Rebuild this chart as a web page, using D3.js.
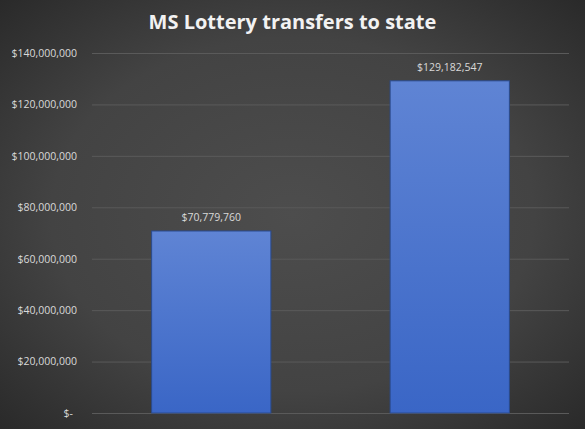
<!DOCTYPE html>
<html><head><meta charset="utf-8">
<script src="https://cdn.jsdelivr.net/npm/d3@7"></script>
<style>html,body{margin:0;padding:0;background:#3a3a3a;}svg{display:block;}</style>
</head><body>
<script>
const categories = ["Year 1", "Year 2"];
const values = [70779760, 129182547];
const tickValues = [0, 20000000, 40000000, 60000000, 80000000, 100000000, 120000000, 140000000];
const tickLabels = ["$-", "$20,000,000", "$40,000,000", "$60,000,000", "$80,000,000", "$100,000,000", "$120,000,000", "$140,000,000"];
const title = "MS Lottery transfers to state";

const W = 585, H = 429;
const margin = {left: 92, right: 16, top: 53, bottom: 16};
const svg = d3.select("body").append("svg").attr("width", W).attr("height", H);
const defs = svg.append("defs");
const bg = defs.append("radialGradient").attr("id", "bg").attr("cx", "50%").attr("cy", "50%").attr("r", "75%");
bg.append("stop").attr("offset", "0%").attr("stop-color", "#4d4d4d");
bg.append("stop").attr("offset", "55%").attr("stop-color", "#434343");
bg.append("stop").attr("offset", "100%").attr("stop-color", "#262626");
const bar = defs.append("linearGradient").attr("id", "bar").attr("x1", 0).attr("y1", 0).attr("x2", 0).attr("y2", 1);
bar.append("stop").attr("offset", "0%").attr("stop-color", "#5f84d4");
bar.append("stop").attr("offset", "100%").attr("stop-color", "#3a66c6");

svg.append("rect").attr("width", W).attr("height", H).attr("fill", "url(#bg)");

const x = d3.scaleBand().domain(categories).range([margin.left, W - margin.right]).paddingInner(0.5).paddingOuter(0.25);
const y = d3.scaleLinear().domain([0, 140000000]).range([H - margin.bottom, margin.top]);

const yAxis = d3.axisLeft(y).tickValues(tickValues).tickFormat((d, i) => tickLabels[i])
  .tickSize(-(W - margin.right - margin.left)).tickPadding(15);
const ga = svg.append("g").attr("transform", `translate(${margin.left},0)`).call(yAxis);
ga.select(".domain").remove();
ga.selectAll(".tick line").attr("stroke", "#5a5a5a").attr("stroke-width", 1);
ga.selectAll(".tick text").attr("fill", "#d9d9d9").attr("font-family", "'Open Sans', sans-serif").attr("font-size", "10.5px");
ga.selectAll(".tick text").filter(d => d === 0).attr("dx", "-4");

svg.selectAll("rect.bar").data(values).join("rect").attr("class", "bar")
  .attr("x", (d, i) => x(categories[i])).attr("width", x.bandwidth())
  .attr("y", d => y(d)).attr("height", d => y(0) - y(d))
  .attr("fill", "url(#bar)").attr("stroke", "#2a4a8e").attr("stroke-width", 1);

svg.selectAll("text.lbl").data(values).join("text").attr("class", "lbl")
  .attr("x", (d, i) => x(categories[i]) + x.bandwidth() / 2).attr("y", d => y(d) - 10)
  .attr("text-anchor", "middle").attr("fill", "#d9d9d9")
  .attr("font-family", "'Open Sans', sans-serif").attr("font-size", "10.5px")
  .text(d => "$" + d3.format(",")(d));

svg.append("text").attr("x", W / 2).attr("y", 29).attr("text-anchor", "middle")
  .attr("fill", "#f2f2f2").attr("font-family", "'Open Sans', sans-serif").attr("font-weight", "bold")
  .attr("font-size", "20px").text(title);
</script>
</body></html>
